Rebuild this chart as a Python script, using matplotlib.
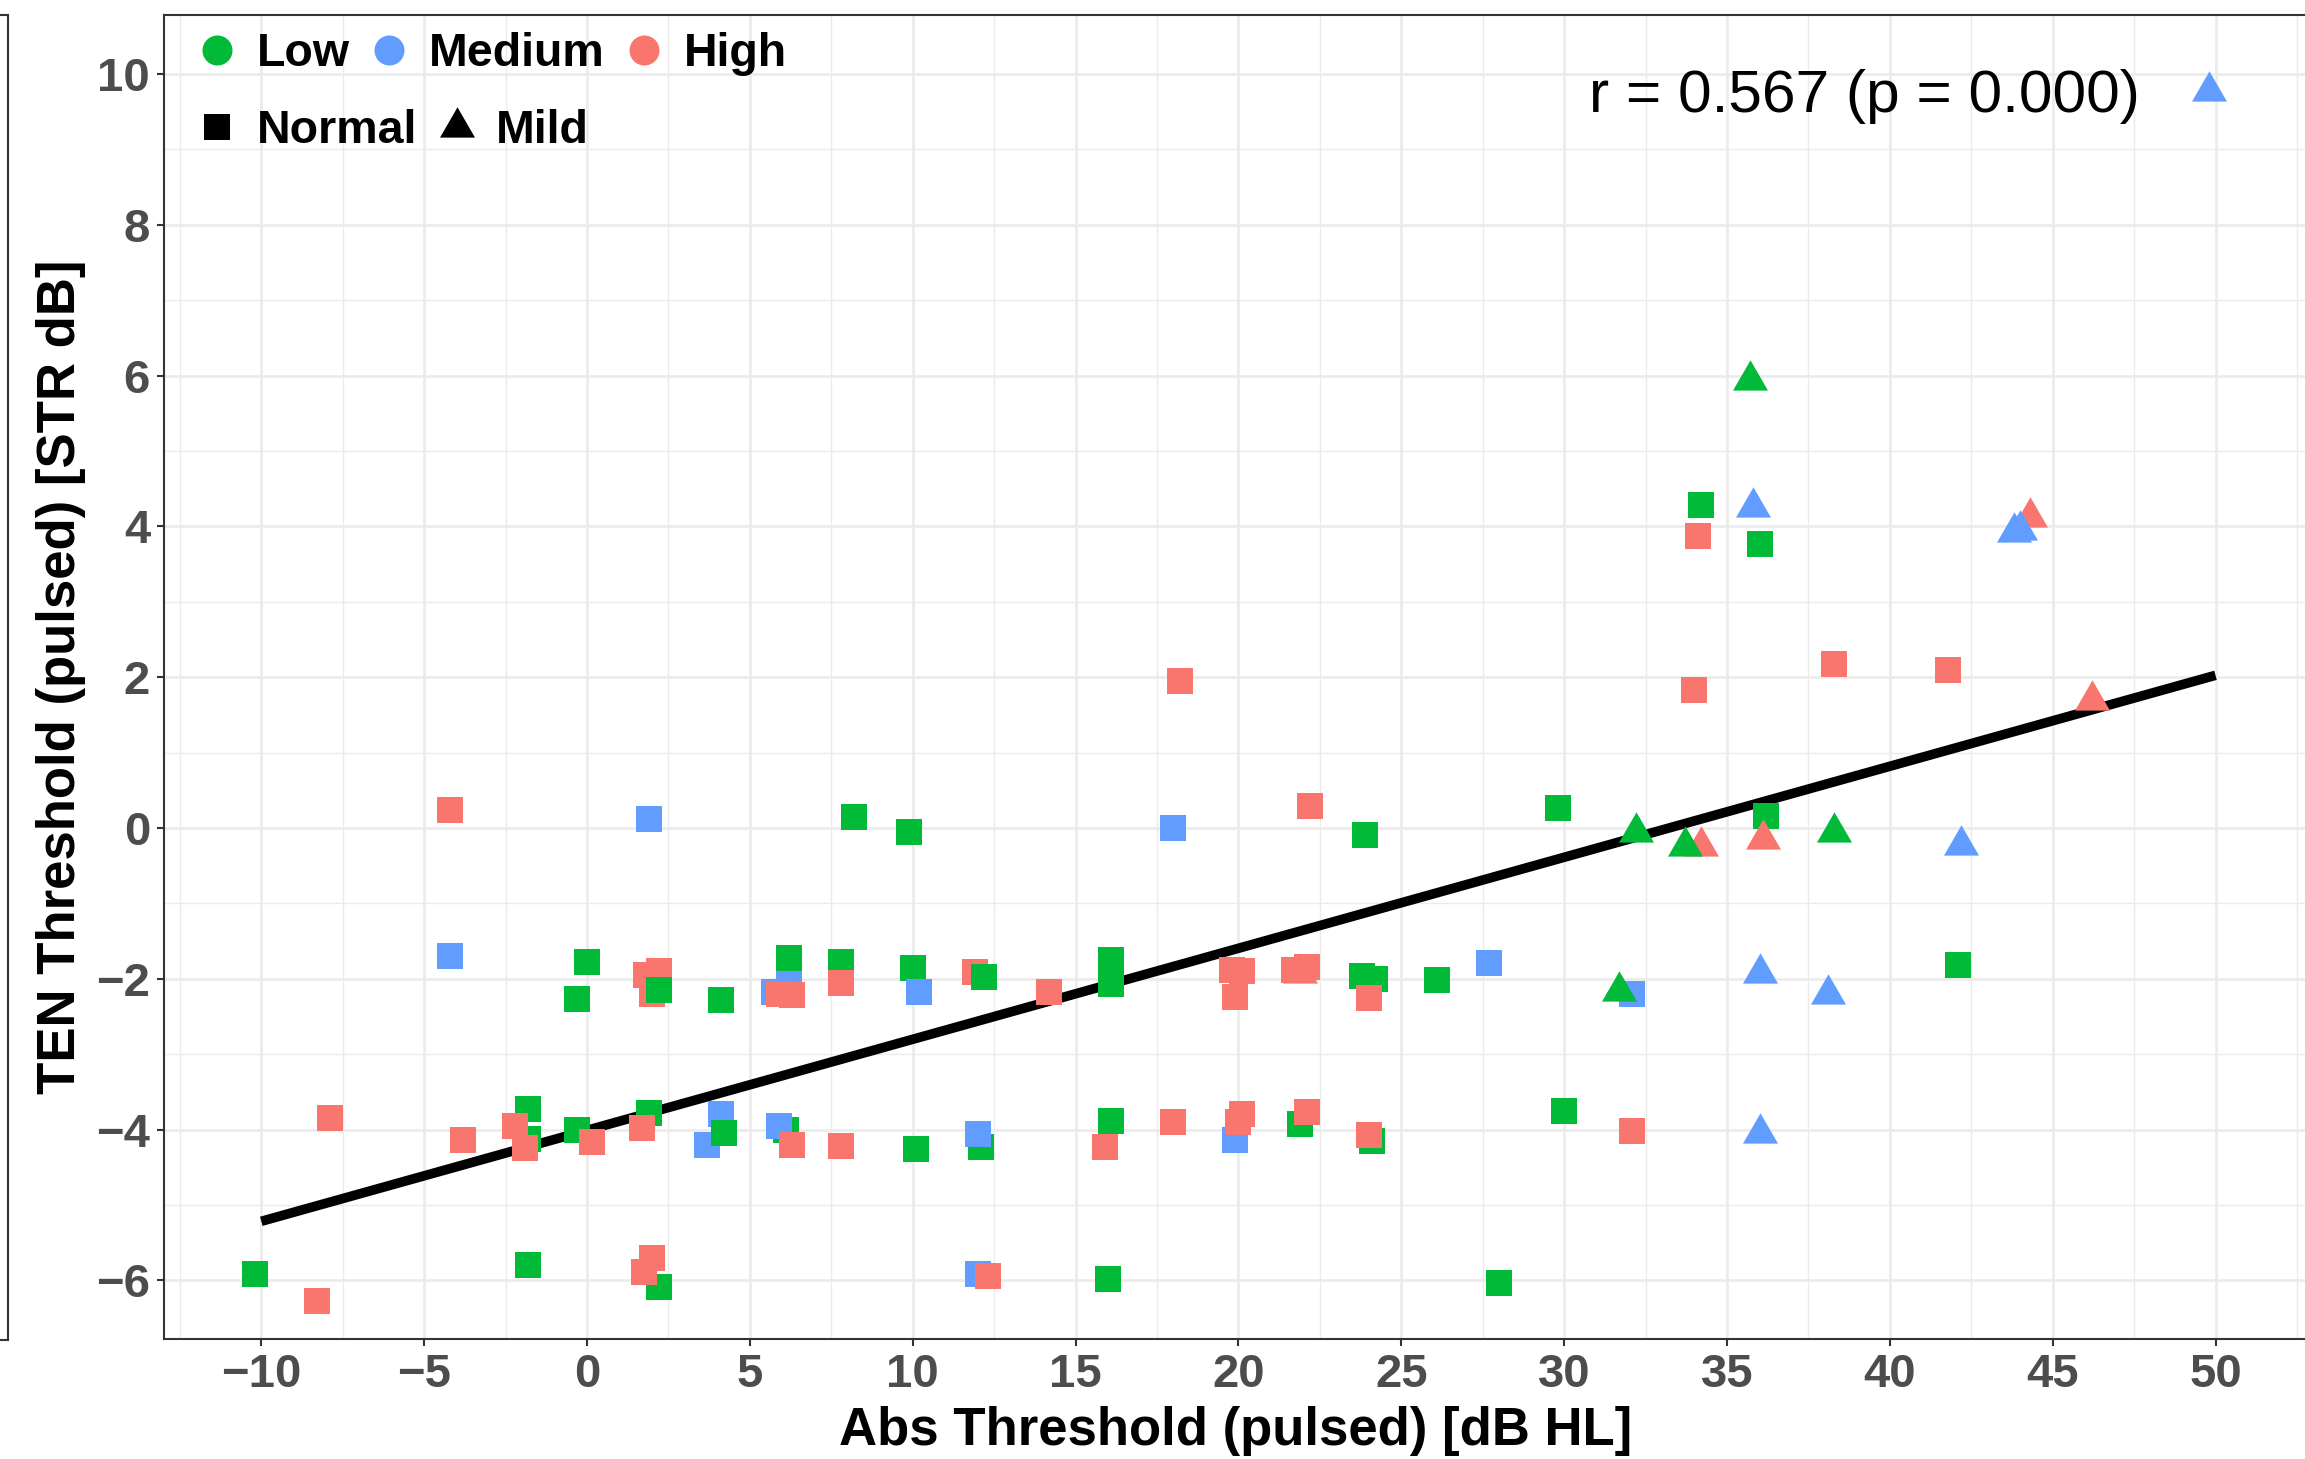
import numpy as np
import matplotlib
matplotlib.use("Agg")
import matplotlib.pyplot as plt
from matplotlib.lines import Line2D
from matplotlib.ticker import MultipleLocator

plt.rcParams["font.family"] = ["Liberation Sans", "DejaVu Sans"]

# level / hearing-loss categories and colours
levels = ["Low", "Medium", "High"]
level_colors = {"Low": "#00BA38", "Medium": "#619CFF", "High": "#F8766D"}
hearing = ["Normal", "Mild"]

# points, in drawing order (later rows sit on top)
abs_thr = [
    21.9, 3.7, 4.1, 5.75, 6.2, 12.0, 19.9, 32.1, 2.0, 1.8, 2.2, 11.9, 44.3, 34.2,
    # low, normal
    8.2, 9.9, 0.0, -0.3, 2.2, 4.1, 6.2, 7.8, 10.0, -1.8, -1.8, -0.3, 1.9, 4.2,
    6.1, 10.1, -10.2, -1.8, 2.2, 23.9, 29.8, 12.2, 16.1, 16.1, 23.8, 24.2, 26.1,
    12.1, 16.1, 21.9, 24.1, 30.0, 16.0, 28.0, 34.2, 36.0, 36.2, 42.1,
    # medium, normal
    1.9, -4.2, 10.2, 5.9, 18.0, 27.7, 12.0,
    # high, normal
    -4.2, 5.9, 6.3, 7.8, 14.2, 19.8, 20.1, 19.9, 21.7, 22.1, 24.0, -7.9, -3.8,
    -2.2, -1.9, 0.15, 1.7, 6.3, 7.8, 15.9, 18.0, 20.0, 20.1, 22.1, 24.0, 32.1,
    -8.3, 2.0, 1.75, 12.3, 18.2, 22.2, 34.1, 38.3, 41.8, 34.0,
    # mild
    35.7, 32.2, 33.7, 38.3, 31.7,
    49.8, 35.8, 43.8, 44.0, 42.2, 36.0, 38.1, 36.0,
    46.2, 36.1,
]
ten_thr = [
    -1.92, -4.2, -3.8, -2.18, -1.95, -5.92, -4.14, -2.2, -2.2, -1.95, -1.9, -1.91, 4.12, -0.24,
    0.15, -0.05, -1.78, -2.27, -2.15, -2.28, -1.73, -1.78, -1.86, -3.73, -4.12, -4.0, -3.78, -4.04,
    -4.0, -4.26, -5.92, -5.8, -6.09, -0.09, 0.27, -1.97, -1.75, -2.07, -1.96, -2.0, -2.02,
    -4.23, -3.89, -3.93, -4.15, -3.76, -5.98, -6.04, 4.29, 3.77, 0.16, -1.82,
    0.12, -1.7, -2.18, -3.95, 0.0, -1.79, -4.06,
    0.24, -2.2, -2.22, -2.05, -2.17, -1.88, -1.9, -2.24, -1.89, -1.85, -2.26, -3.85, -4.14,
    -3.95, -4.24, -4.17, -3.98, -4.2, -4.22, -4.23, -3.9, -3.9, -3.79, -3.77, -4.07, -4.02,
    -6.27, -5.71, -5.89, -5.94, 1.95, 0.29, 3.87, 2.18, 2.09, 1.83,
    5.94, -0.05, -0.24, -0.05, -2.16,
    9.78, 4.26, 3.92, 3.95, -0.23, -1.93, -2.2, -4.04,
    1.70, -0.14,
]
level = (
    ["High"] + ["Medium"] * 7 + ["High"] * 6
    + ["Low"] * 38 + ["Medium"] * 7 + ["High"] * 36
    + ["Low"] * 5 + ["Medium"] * 8 + ["High"] * 2
)
loss = (
    ["Mild"] + ["Normal"] * 11 + ["Mild"] * 2
    + ["Normal"] * (38 + 7 + 36)
    + ["Mild"] * 15
)
assert len(abs_thr) == len(ten_thr) == len(level) == len(loss)

# regression line
fit_range = [-10, 50]
fit_intercept = -4.01
fit_slope = 0.1207
r_text = "r = 0.567 (p = 0.000)"

W, H, DPI = 2305, 1459, 100
fig = plt.figure(figsize=(W / DPI, H / DPI), dpi=DPI)

# edge of the neighbouring panel, cut off at the left
left_px, right_px, top_px, bot_px = 164, 2308, 15, 1339
ax0 = fig.add_axes([-0.1, (H - 1340) / H, 0.1 + 8 / W, (1340 - top_px) / H])
ax0.set_xticks([])
ax0.set_yticks([])
for s in ax0.spines.values():
    s.set_color("#333333")
    s.set_linewidth(1.5)

ax = fig.add_axes([left_px / W, (H - bot_px) / H, (right_px - left_px) / W, (bot_px - top_px) / H])

# equilateral triangle centred on its centroid (like R pch 17)
tri = [(0, 1), (-0.866, -0.5), (0.866, -0.5), (0, 1)]
markers = {"Normal": "s", "Mild": tri}
msize = {"Normal": 19.4, "Mild": 29.1}

fx = np.array(fit_range, dtype=float)
ax.plot(fx, fit_intercept + fit_slope * fx, color="black", lw=6.9,
        solid_capstyle="butt", zorder=2)

for x, y, lv, ls in zip(abs_thr, ten_thr, level, loss):
    ax.scatter([x], [y], s=msize[ls] ** 2, marker=markers[ls], color=level_colors[lv],
               linewidths=0, zorder=3)

ax.text(39.22, 9.50, r_text, ha="center", va="baseline", fontsize=43.5, color="black")

ax.set_xlim(-12.987, 52.84)
ax.set_ylim(-6.778, 10.783)
ax.xaxis.set_major_locator(MultipleLocator(5))
ax.xaxis.set_minor_locator(MultipleLocator(2.5))
ax.yaxis.set_major_locator(MultipleLocator(2))
ax.yaxis.set_minor_locator(MultipleLocator(1))
ax.set_axisbelow(True)
ax.grid(which="major", color="#EBEBEB", lw=1.9)
ax.grid(which="minor", color="#EBEBEB", lw=1.0)
ax.tick_params(which="major", length=5, width=1.5, color="#333333",
               labelsize=34, labelcolor="#4D4D4D", pad=5)
ax.tick_params(which="minor", length=0)
for lab in ax.get_xticklabels() + ax.get_yticklabels():
    lab.set_fontweight("bold")
for s in ax.spines.values():
    s.set_color("#333333")
    s.set_linewidth(1.5)

ax.set_xlabel("Abs Threshold (pulsed) [dB HL]", fontsize=38, fontweight="bold")
ax.xaxis.label.set_va("baseline")
ax.xaxis.set_label_coords(0.5, (bot_px - 1445) / (bot_px - top_px))
ax.set_ylabel("TEN Threshold (pulsed) [STR dB]", fontsize=38, fontweight="bold")
ax.yaxis.label.set_va("center")
ax.yaxis.set_label_coords((61 - left_px) / (right_px - left_px), 0.5)

# legends
col_handles = [Line2D([], [], marker="o", ls="None", markersize=21.6,
                      markerfacecolor=level_colors[l], markeredgewidth=0) for l in levels]
shp_handles = [Line2D([], [], marker=markers[h], ls="None", markersize=msize[h],
                      markerfacecolor="black", markeredgewidth=0) for h in hearing]
leg_kw = dict(frameon=False, loc="center left", borderpad=0, borderaxespad=0,
              handlelength=0.7, handletextpad=0.5, columnspacing=0.5,
              prop={"weight": "bold", "size": 33.5}, bbox_transform=fig.transFigure)
leg1 = ax.legend(col_handles, levels, ncol=3,
                 bbox_to_anchor=(201 / W, 1 - 54 / H), **leg_kw)
ax.add_artist(leg1)
ax.legend(shp_handles, hearing, ncol=2,
          bbox_to_anchor=(201 / W, 1 - 131 / H), **leg_kw)

fig.savefig("out.png", dpi=DPI)
